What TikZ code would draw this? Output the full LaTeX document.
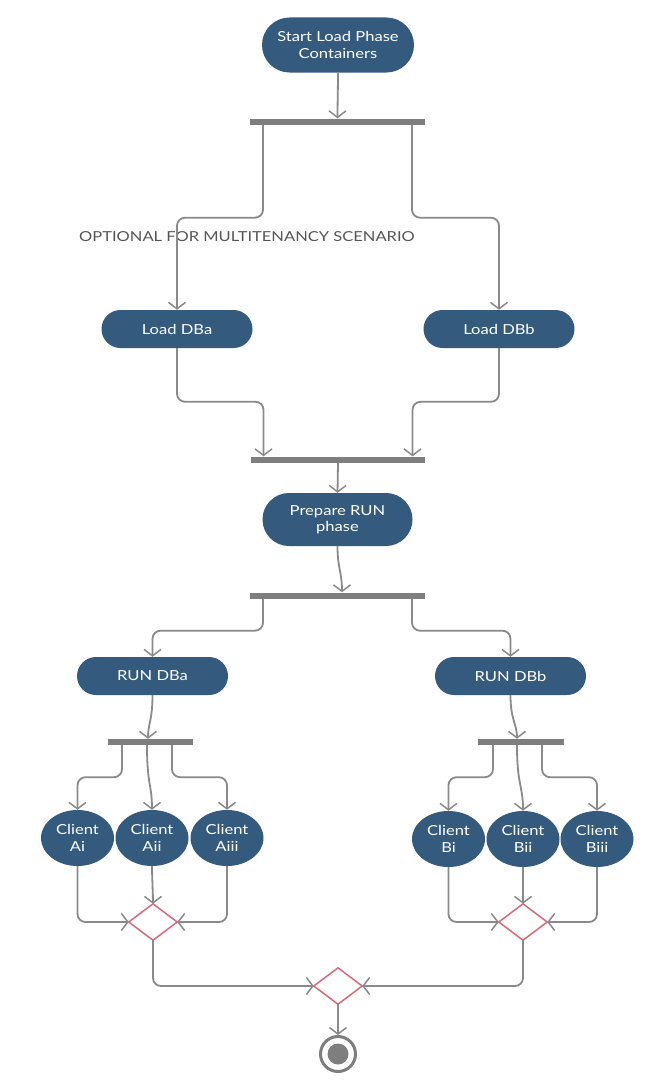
\documentclass[tikz,border=0pt]{standalone}
\usepackage{fontspec}
\setmainfont{Lato}[FakeStretch=1.2]
\usetikzlibrary{arrows.meta,shapes.misc,shapes.geometric}
\definecolor{pillblue}{HTML}{345B7E}
\definecolor{linegray}{HTML}{8A8A8A}
\definecolor{bargray}{HTML}{7E7E7E}
\definecolor{dred}{HTML}{D9697A}
\definecolor{labelgray}{HTML}{555555}
\tikzset{
  pill/.style={rounded rectangle, fill=pillblue, text=white, inner sep=0pt, align=center,
    font=\fontsize{13.8}{16.5}\selectfont},
  client/.style={ellipse, fill=pillblue, text=white, inner sep=0pt, align=center,
    minimum width=73pt, minimum height=56pt, font=\fontsize{13.8}{16.5}\selectfont},
  forkbar/.style={rectangle, fill=bargray, inner sep=0pt, minimum height=6pt},
  gate/.style={rectangle, inner sep=0pt, minimum width=48pt, minimum height=36pt},
  flow/.style={draw=linegray, line width=1.8pt, rounded corners=8pt,
    -{Straight Barb[length=6.5pt,width=17pt,line width=1.5pt]}},
}
\begin{document}
\begin{tikzpicture}[x=1pt,y=-1pt]
\useasboundingbox (0,0) rectangle (645,1081);
\fill[white] (0,0) rectangle (645,1081);

% nodes
\node[pill, minimum width=152pt, minimum height=55pt] (start) at (338,45) {Start Load Phase\\Containers};
\node[forkbar, minimum width=175pt] (bar1) at (337.5,121.5) {};
\node[pill, minimum width=151pt, minimum height=38pt] (lda) at (177,329) {Load DBa};
\node[pill, minimum width=151pt, minimum height=38pt] (ldb) at (499,329) {Load DBb};
\node[forkbar, minimum width=174pt] (bar2) at (338,459.5) {};
\node[pill, minimum width=150pt, minimum height=53pt] (prep) at (337.5,519.5) {Prepare RUN\\phase};
\node[forkbar, minimum width=175pt] (bar3) at (337.5,595.5) {};
\node[pill, minimum width=151pt, minimum height=38pt] (rda) at (152.5,676) {RUN DBa};
\node[pill, minimum width=151pt, minimum height=38pt] (rdb) at (510.5,676) {RUN DBb};
\node[forkbar, minimum width=85pt] (bar4) at (150.5,742) {};
\node[forkbar, minimum width=86pt] (bar5) at (521,742) {};

\node[client] (ca1) at (77.5,838) {Client\\Ai};
\node[client] (ca2) at (152,838) {Client\\Aii};
\node[client] (ca3) at (227,838) {Client\\Aiii};
\node[client] (cb1) at (448.5,839) {Client\\Bi};
\node[client] (cb2) at (523,839) {Client\\Bii};
\node[client] (cb3) at (597,839) {Client\\Biii};

\node[gate] (da) at (153,922) {};
\node[gate] (db) at (523,922) {};
\node[gate] (df) at (338,986) {};
\foreach \g in {da,db,df}
  \draw[dred, line width=1.5pt, fill=white] (\g.north) -- (\g.east) -- (\g.south) -- (\g.west) -- cycle;

\node[circle, draw=bargray, line width=3pt, minimum size=35pt, inner sep=0pt] (end) at (338,1054) {};
\fill[bargray] (end.center) circle (10.5pt);

\node[text=labelgray, anchor=west, inner sep=0pt, font=\fontsize{13.75}{16}\selectfont] (opt) at (79,237) {OPTIONAL FOR MULTITENANCY SCENARIO};

% connectors
\draw[flow] (start.south) .. controls +(0,15) and +(0,-15) .. (bar1.north);
\draw[flow] ([xshift=-74.5pt]bar1.south) -- ++(0,93) -| (lda.north);
\draw[flow] ([xshift=74.5pt]bar1.south) -- ++(0,93) -| (ldb.north);
\draw[flow] (lda.south) |- ([xshift=-74.5pt,yshift=54.5pt]bar2.north) -- ([xshift=-74.5pt]bar2.north);
\draw[flow] (ldb.south) |- ([xshift=74.5pt,yshift=54.5pt]bar2.north) -- ([xshift=74.5pt]bar2.north);
\draw[flow] (bar2.south) -- (prep.north);
\draw[flow] (prep.south) .. controls +(0,22) and +(0,-20) .. ([xshift=4.5pt]bar3.north);
\draw[flow] ([xshift=-74.5pt]bar3.south) -- ++(0,32) -| (rda.north);
\draw[flow] ([xshift=74.5pt]bar3.south) -- ++(0,32) -| (rdb.north);
\draw[flow] (rda.south) .. controls +(0,25) and +(0,-15) .. ([xshift=-2.5pt]bar4.north);
\draw[flow] (rdb.south) .. controls +(0,25) and +(0,-15) .. ([xshift=-4pt]bar5.north);

\draw[flow] ([xshift=-28.5pt]bar4.south) -- ++(0,32) -| (ca1.north);
\draw[flow] ([xshift=-3.5pt]bar4.south) .. controls +(0,40) and +(0,-25) .. (ca2.north);
\draw[flow] ([xshift=21.5pt]bar4.south) -- ++(0,32) -| (ca3.north);
\draw[flow] ([xshift=-28pt]bar5.south) -- ++(0,32) -| (cb1.north);
\draw[flow] ([xshift=-4pt]bar5.south) .. controls +(0,40) and +(0,-25) .. (cb2.north);
\draw[flow] ([xshift=21pt]bar5.south) -- ++(0,32) -| (cb3.north);

\draw[flow] (ca1.south) |- (da.west);
\draw[flow] (ca2.south) .. controls +(0,10) and +(0,-10) .. (da.north);
\draw[flow] (ca3.south) |- (da.east);
\draw[flow] (cb1.south) |- (db.west);
\draw[flow] (cb2.south) .. controls +(0,10) and +(0,-10) .. (db.north);
\draw[flow] (cb3.south) |- (db.east);

\draw[flow] (da.south) |- (df.west);
\draw[flow] (db.south) |- (df.east);
\draw[flow] (df.south) -- (end.north);
\end{tikzpicture}
\end{document}
